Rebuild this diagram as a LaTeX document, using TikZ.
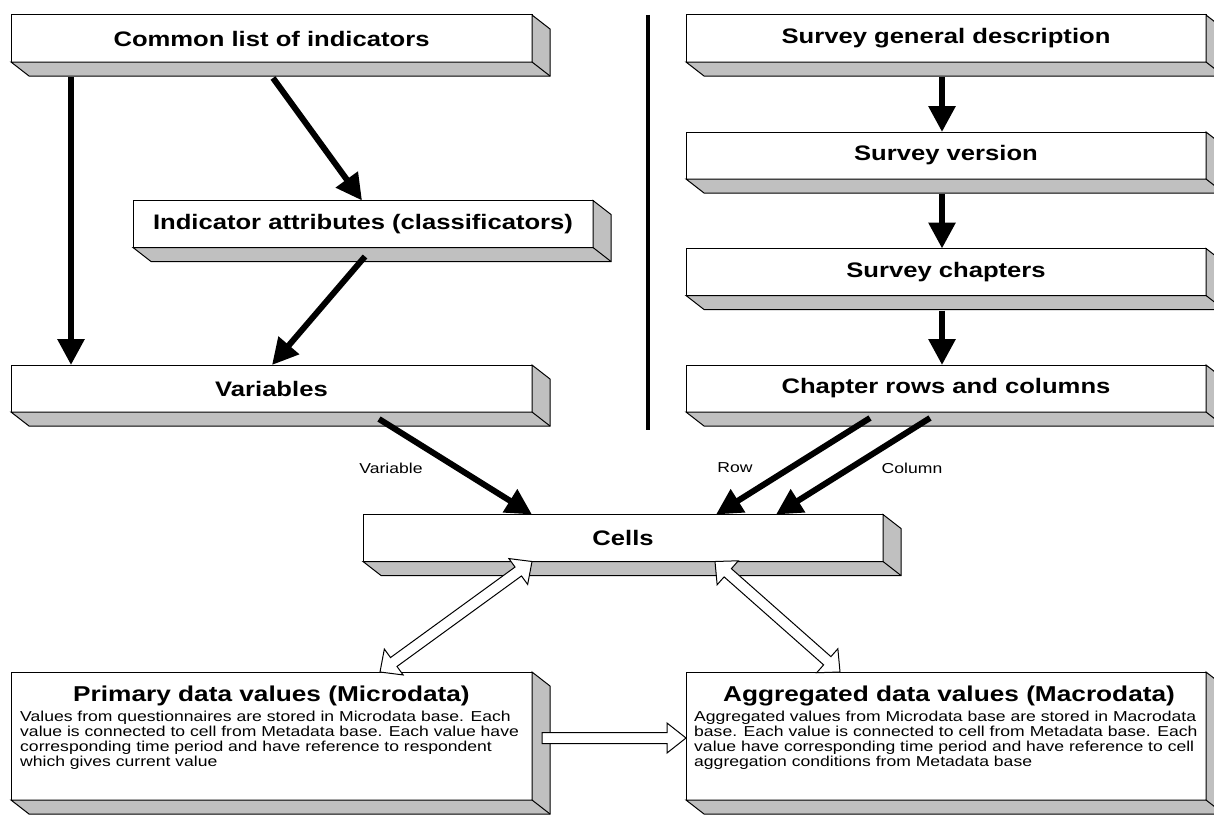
\documentclass[tikz,border=0pt]{standalone}
\usepackage{fontspec}
\setmainfont{Liberation Sans}[FakeStretch=1.22]
\usetikzlibrary{calc,arrows.meta}
\definecolor{extgray}{RGB}{192,192,192}
\tikzset{
  box/.style={draw=black, line width=1pt, fill=white, minimum width=521pt, minimum height=47pt,
    inner sep=0pt, outer sep=0pt, font=\fontsize{21}{25}\selectfont\bfseries},
  bigtitle/.style={inner sep=0pt, font=\fontsize{21.5}{25}\selectfont\bfseries},
  solidarrow/.style={line width=6pt, -{Triangle[length=26pt,width=26pt]}},
  hollow/.style={draw=black, line width=1pt, fill=white, line join=miter},
  lbl/.style={inner sep=0pt, font=\fontsize{14.4}{15}\selectfont},
  bodytext/.style={inner sep=0pt, anchor=north west, align=left, font=\fontsize{14.4}{15}\selectfont},
  divider/.style={line width=4pt},
}
\newcommand{\extr}[1]{%
  \filldraw[fill=extgray, draw=black, line width=1pt, line join=miter]
    (#1.south west) -- ++(18,14) -- ($(#1.south east)+(18,14)$) -- ($(#1.north east)+(18,14)$)
    -- (#1.north east) -- (#1.south east) -- cycle;
  \draw[line width=1pt] (#1.south east) -- ++(18,14);
}
\newcommand{\hdouble}[2]{%
  \coordinate (ha) at ($(#1)!17pt!(#2)$);
  \coordinate (hb) at ($(#2)!17pt!(#1)$);
  \path[hollow] (#1) -- ($(ha)!16pt!90:(#2)$) -- ($(ha)!5.5pt!90:(#2)$)
    -- ($(hb)!5.5pt!-90:(#1)$) -- ($(hb)!16pt!-90:(#1)$) -- (#2)
    -- ($(hb)!16pt!90:(#1)$) -- ($(hb)!5.5pt!90:(#1)$)
    -- ($(ha)!5.5pt!-90:(#2)$) -- ($(ha)!16pt!-90:(#2)$) -- cycle;
}
\begin{document}
\begin{tikzpicture}[x=1pt,y=-1pt]
\useasboundingbox (0,0) rectangle (1214,816);
\fill[white] (0,0) rectangle (1214,816);
\clip (0,0) rectangle (1214,816);

% left column
\node[box] (common) at (271.5,38.5) {Common list of indicators};
\extr{common}
\node[box, minimum width=460pt] (attr) at (363,224) {Indicator attributes (classificators)};
\extr{attr}
\node[box] (var) at (271.5,388.5) {Variables};
\extr{var}

% right column
\node[box, minimum width=520pt] (sgd) at (946,38.5) {Survey general description};
\extr{sgd}
\node[box, minimum width=520pt] (sv) at (946,155.5) {Survey version};
\extr{sv}
\node[box, minimum width=520pt] (sc) at (946,272) {Survey chapters};
\extr{sc}
\node[box, minimum width=520pt] (crc) at (946,388.5) {Chapter rows and columns};
\extr{crc}

% cells
\node[box, minimum width=520pt] (cells) at (623,538) {Cells};
\extr{cells}

% bottom boxes
\node[box, minimum height=128pt] (prim) at (271.5,736) {};
\extr{prim}
\node[bigtitle] (primt) at (271.5,696) {Primary data values (Microdata)};
\node[bodytext] (primb) at (20,711) {Values from questionnaires are stored in Microdata base. Each\\
value is connected to cell from Metadata base. Each value have\\
corresponding time period and have reference to respondent\\
which gives current value};

\node[box, minimum width=520pt, minimum height=128pt] (agg) at (946,736) {};
\extr{agg}
\node[bigtitle] (aggt) at (949,696) {Aggregated data values (Macrodata)};
\node[bodytext] (aggb) at (694,711) {Aggregated values from Microdata base are stored in Macrodata\\
base. Each value is connected to cell from Metadata base. Each\\
value have corresponding time period and have reference to cell\\
aggregation conditions from Metadata base};

% divider
\coordinate (dtop) at (648,15);
\coordinate (dbot) at (648,430);
\draw[divider] (dtop) -- (dbot);

% solid arrows
\draw[solidarrow] ($(common.south west)+(60,15)$) -- ($(var.north west)+(60,0)$);
\draw[solidarrow] ($(common.south west)+(262,16)$) -- ($(attr.north west)+(229,0)$);
\draw[solidarrow] ($(attr.south west)+(232,9)$) -- ($(var.north west)+(261,0)$);
\draw[solidarrow] ($(sgd.south)+(-4,15)$) -- ($(sv.north)+(-4,0)$);
\draw[solidarrow] ($(sv.south)+(-4,15)$) -- ($(sc.north)+(-4,0)$);
\draw[solidarrow] ($(sc.south)+(-4,15)$) -- ($(crc.north)+(-4,0)$);
\draw[solidarrow] ($(var.south west)+(368,7)$) -- ($(cells.north west)+(169,0)$);
\draw[solidarrow] ($(crc.south west)+(184,6)$) -- ($(cells.north west)+(353,0)$);
\draw[solidarrow] ($(crc.south west)+(244,6)$) -- ($(cells.north west)+(413,0)$);

% labels
\node[lbl] (lvar) at (391,468) {Variable};
\node[lbl] (lrow) at (735,468) {Row};
\node[lbl] (lcol) at (912,468) {Column};

% hollow double arrows
\coordinate (c1) at ($(cells.south west)+(169,0)$);
\coordinate (p1) at ($(prim.north west)+(369,0)$);
\coordinate (c2) at ($(cells.south west)+(352,0)$);
\coordinate (a1) at ($(agg.north west)+(154,0)$);
\hdouble{c1}{p1}
\hdouble{c2}{a1}

% hollow single arrow
\coordinate (sa) at ($(prim.east)+(10,2)$);
\coordinate (sb) at ($(agg.west)+(0,2)$);
\path[hollow] ($(sa)+(0,-5.5)$) -- ($(sb)+(-19,-5.5)$) -- ($(sb)+(-19,-15)$) -- (sb)
  -- ($(sb)+(-19,15)$) -- ($(sb)+(-19,5.5)$) -- ($(sa)+(0,5.5)$) -- cycle;
\end{tikzpicture}
\end{document}
